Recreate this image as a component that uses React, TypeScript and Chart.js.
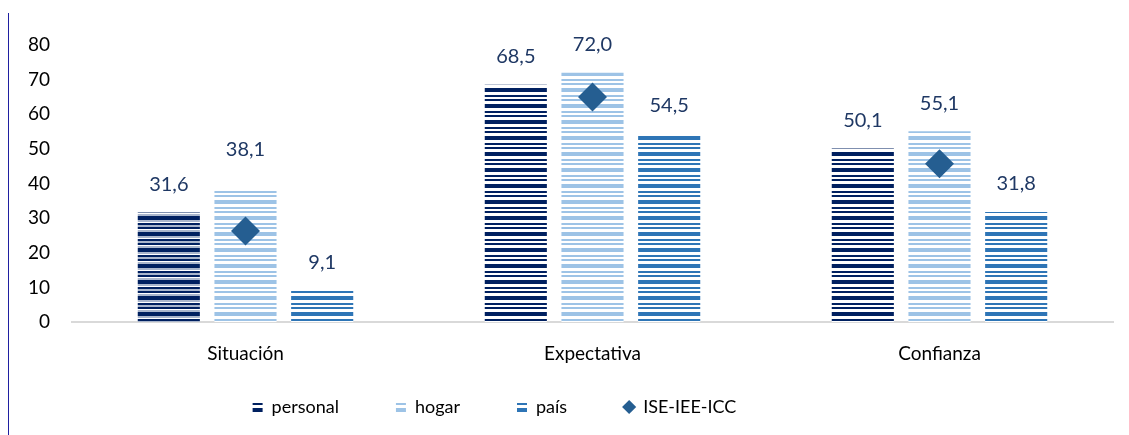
import React, { useEffect, useRef } from "react";
import { Chart, registerables } from "chart.js";

Chart.register(...registerables);

// ---- Data ----
const categories = ["Situación", "Expectativa", "Confianza"];
const personal = [31.6, 68.5, 50.1];
const hogar = [38.1, 72.0, 55.1];
const pais = [9.1, 54.5, 31.8];
const indice = [26.3, 65.0, 45.7];
const seriesNames = ["personal", "hogar", "país", "ISE-IEE-ICC"];
const yMin = 0;
const yMax = 80;
const yStep = 10;

// ---- Styles ----
const NAVY = "#002060";
const LIGHT = "#9DC3E6";
const MID = "#2E75B6";
const DIAMOND = "#255E91";
const LABEL_COLOR = "#1F3864";
const FONT = "Lato, 'Open Sans', sans-serif";
const LEGEND_PAD = 57;

function stripes(bands: [string, number][]): CanvasPattern | string {
  const total = bands.reduce((s, b) => s + b[1], 0);
  const c = document.createElement("canvas");
  c.width = 8;
  c.height = total;
  const ctx = c.getContext("2d");
  if (!ctx) return bands[0][0];
  let y = 0;
  for (const [col, h] of bands) {
    ctx.fillStyle = col;
    ctx.fillRect(0, y, 8, h);
    y += h;
  }
  return ctx.createPattern(c, "repeat") || bands[0][0];
}

function standard(col: string) {
  return stripes([
    [col, 4],
    ["#ffffff", 3],
    [col, 2],
    ["#ffffff", 2],
    [col, 2],
    ["#ffffff", 3],
  ]);
}

const fmt = (v: number) => v.toFixed(1).replace(".", ",");

export default function App() {
  const ref = useRef<HTMLCanvasElement | null>(null);

  useEffect(() => {
    if (!ref.current) return;
    const pNavy = standard(NAVY);
    const pNavyAlt = stripes([
      [NAVY, 4],
      ["#aab6cc", 2],
      ["#ffffff", 1],
      [NAVY, 2],
      ["#aab6cc", 2],
      [NAVY, 2],
      ["#ffffff", 1],
      ["#aab6cc", 2],
    ]);
    const pLight = standard(LIGHT);
    const pMid = standard(MID);

    const dataLabels = {
      id: "dataLabels",
      afterDatasetsDraw(chart: any) {
        const ctx = chart.ctx;
        ctx.save();
        ctx.font = `20px ${FONT}`;
        ctx.fillStyle = LABEL_COLOR;
        ctx.textAlign = "center";
        ctx.textBaseline = "middle";
        [0, 1, 2].forEach((di) => {
          const meta = chart.getDatasetMeta(di);
          meta.data.forEach((el: any, i: number) => {
            const v = chart.data.datasets[di].data[i] as number;
            const lift = di === 1 && i === 0 ? 41 : 28;
            ctx.fillText(fmt(v), el.x, el.y - lift);
          });
        });
        ctx.restore();
      },
    };

    const legendFix = {
      id: "legendFix",
      beforeLayout(chart: any) {
        const lg = chart.legend;
        if (lg && !lg.__patched) {
          const orig = lg.fit;
          lg.fit = function (this: any) {
            orig.call(this);
            this.height = 39;
          };
          lg.__patched = true;
        }
      },
      afterLayout(chart: any) {
        const lg = chart.legend;
        if (lg) {
          lg.left -= 66;
          lg.right -= 66;
          lg.top -= LEGEND_PAD - 10;
        }
      },
    };

    const chart = new Chart(ref.current, {
      type: "bar",
      data: {
        labels: categories,
        datasets: [
          {
            label: seriesNames[0],
            data: personal,
            backgroundColor: [pNavyAlt, pNavy, pNavy] as any,
            order: 1,
          },
          {
            label: seriesNames[1],
            data: hogar,
            backgroundColor: pLight as any,
            order: 1,
          },
          {
            label: seriesNames[2],
            data: pais,
            backgroundColor: pMid as any,
            order: 1,
          },
          {
            type: "line" as any,
            label: seriesNames[3],
            data: indice,
            showLine: false,
            pointStyle: "rectRot",
            pointRadius: 14.5,
            pointHoverRadius: 14.5,
            backgroundColor: DIAMOND,
            borderColor: DIAMOND,
            borderWidth: 0,
            order: 0,
          } as any,
        ],
      },
      options: {
        responsive: false,
        animation: false,
        layout: { padding: { left: 0, right: 16, top: 37, bottom: 8 } },
        datasets: {
          bar: { categoryPercentage: 0.663, barPercentage: 0.81 },
        },
        scales: {
          x: {
            grid: { display: false, drawTicks: false },
            border: { display: true, color: "#d9d9d9", width: 2 },
            ticks: {
              color: "#000000",
              font: { family: FONT, size: 19 },
              padding: 20,
            },
            afterFit: (scale: any) => {
              scale.height = 66;
            },
          },
          y: {
            min: yMin,
            max: yMax,
            grid: { display: false, drawTicks: false },
            border: { display: false },
            ticks: {
              stepSize: yStep,
              color: "#000000",
              font: { family: FONT, size: 19 },
              padding: 22,
            },
            afterFit: (scale: any) => {
              scale.width = 64;
            },
          },
        },
        plugins: {
          tooltip: { enabled: false },
          legend: {
            position: "bottom",
            labels: {
              usePointStyle: true,
              boxWidth: 10,
              boxHeight: 10,
              padding: LEGEND_PAD,
              color: "#000000",
              font: { family: FONT, size: 18 },
              generateLabels: (ch: any) => {
                const items = (Chart.defaults.plugins.legend.labels as any).generateLabels(ch);
                return items
                  .sort((a: any, b: any) => a.datasetIndex - b.datasetIndex)
                  .map((it: any) => ({
                    ...it,
                    fillStyle: it.datasetIndex === 0 ? pNavy : it.fillStyle,
                    pointStyle: it.datasetIndex === 3 ? "rectRot" : "rect",
                    lineWidth: 0,
                    strokeStyle: "rgba(0,0,0,0)",
                  }));
              },
            },
          },
        },
      },
      plugins: [dataLabels, legendFix],
    });
    return () => chart.destroy();
  }, []);

  return (
    <div style={{ position: "relative", width: 1121, height: 427 }}>
      <canvas ref={ref} width={1121} height={427} style={{ display: "block" }} />
      <div
        style={{
          position: "absolute",
          left: 0,
          top: 5,
          width: 1,
          height: 422,
          background: "#1f1fa0",
        }}
      />
    </div>
  );
}
